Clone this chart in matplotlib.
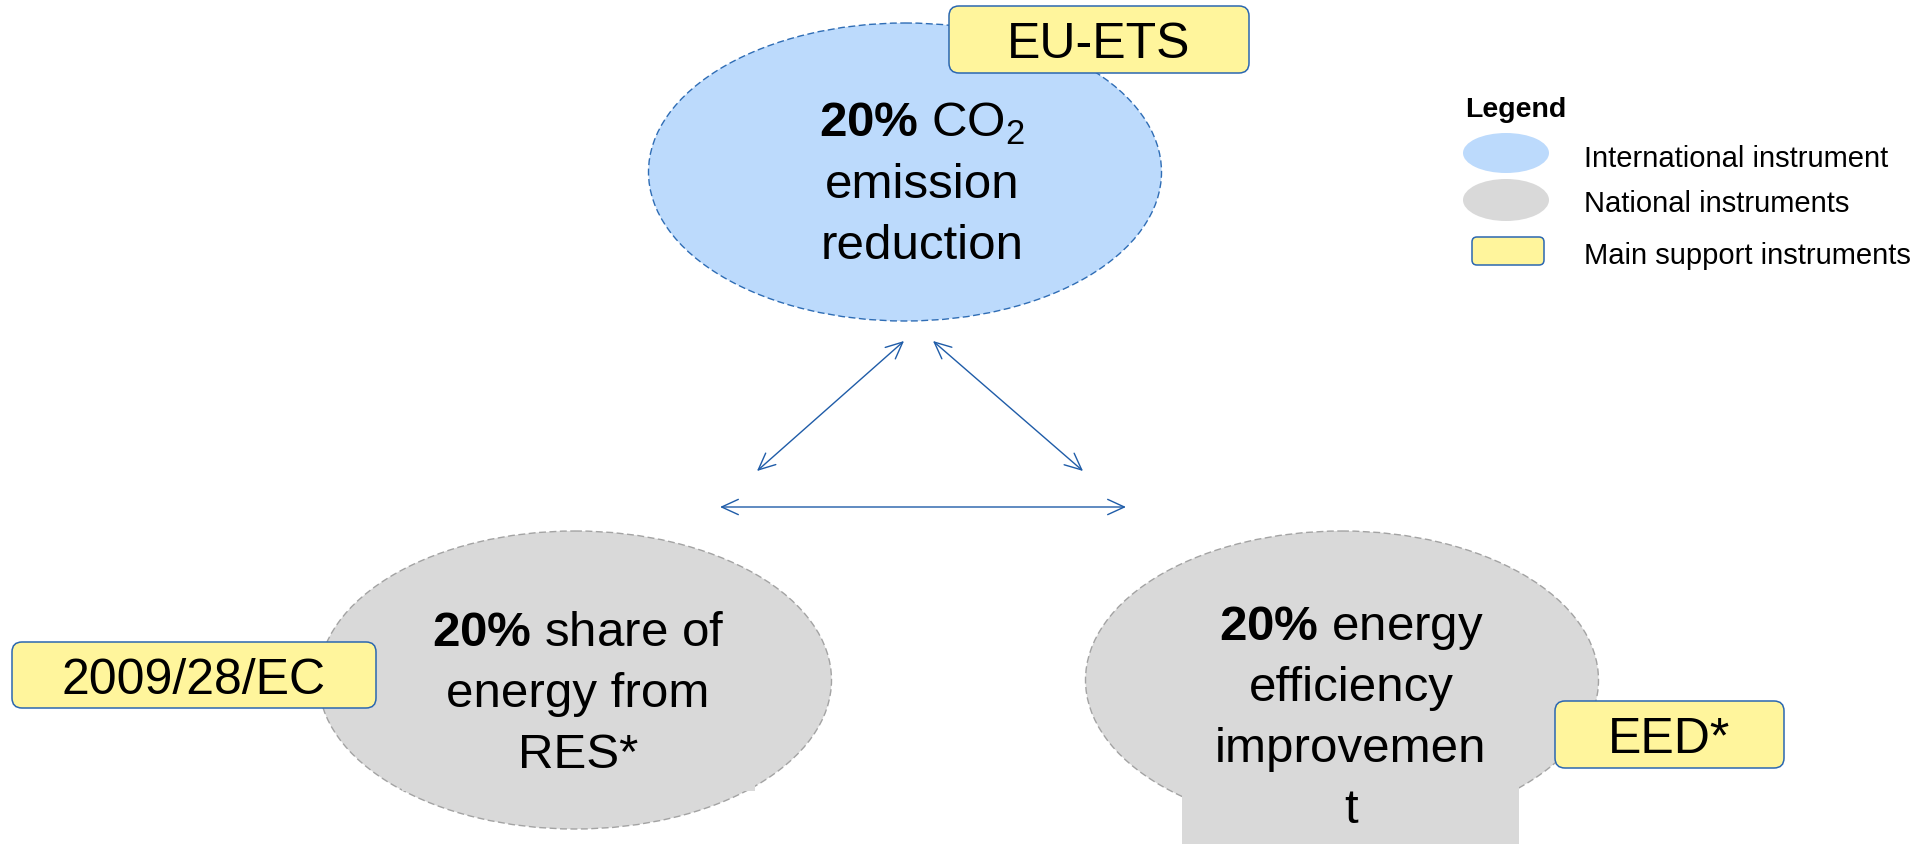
import matplotlib
matplotlib.use('agg')
import matplotlib.pyplot as plt
from matplotlib.patches import Ellipse, Rectangle, FancyBboxPatch

plt.rcParams['font.family'] = ['Liberation Sans', 'DejaVu Sans']
plt.rcParams['mathtext.fontset'] = 'custom'
plt.rcParams['mathtext.rm'] = 'Liberation Sans'
plt.rcParams['mathtext.bf'] = 'Liberation Sans:bold'

##----------DATA---------##
goal_lines = [
    [r'$\mathbf{20\%}$ CO$_2$', 'emission', 'reduction'],
    [r'$\mathbf{20\%}$ share of', 'energy from', 'RES*'],
    [r'$\mathbf{20\%}$ energy', 'efficiency', 'improvemen', 't'],
]
goal_kind = ['international', 'national', 'national']
instruments = ['EU-ETS', '2009/28/EC', 'EED*']
legend_title = 'Legend'
legend_labels = ['International instrument', 'National instruments',
                 'Main support instruments']

##----------STYLE---------##
blueFill = '#BCDAFC'
blueEdge = '#2F6DB5'
grayFill = '#D9D9D9'
grayEdge = '#A3A3A3'
yellow = '#FFF59C'
boxEdge = '#2B67B0'
arrowCol = '#1F5CA8'

fig = plt.figure(figsize=(19.3, 8.45), dpi=100)
ax = fig.add_axes([0, 0, 1, 1])
ax.set_xlim(0, 1930)
ax.set_ylim(845, 0)
ax.axis('off')

#-----------ellipses (center, text center x, first baseline)
ell_pos = [(905, 173, 922, 137), (575, 681, 578, 646), (1342, 681, 1351, 640)]
for (cx, cy, tx, ty), kind, lines in zip(ell_pos, goal_kind, goal_lines):
    fc = blueFill if kind == 'international' else grayFill
    ec = blueEdge if kind == 'international' else grayEdge
    ax.add_patch(Ellipse((cx, cy), 513, 298, facecolor=fc, edgecolor=ec,
                         lw=1.0, linestyle=(0, (5, 2.5)), zorder=1))
    for i, line in enumerate(lines):
        ax.text(tx, ty + i * 61, line, fontsize=35.5, ha='center',
                va='baseline', color='black', zorder=5)

# text boxes overflowing the national ellipses
ax.add_patch(Rectangle((402, 700), 353, 92, facecolor=grayFill,
                       edgecolor='none', zorder=2))
ax.add_patch(Rectangle((1182, 700), 337, 160, facecolor=grayFill,
                       edgecolor='none', zorder=2))

#-----------instrument boxes (x0, y0, x1, y1)
box_pos = [(949, 7, 1249, 74), (12, 643, 376, 709), (1555, 702, 1784, 769)]
for (x0, y0, x1, y1), lab in zip(box_pos, instruments):
    ax.add_patch(FancyBboxPatch((x0, y0), x1 - x0, y1 - y0,
                                boxstyle='round,pad=0,rounding_size=10',
                                facecolor=yellow, edgecolor=boxEdge,
                                lw=1.1, zorder=6))
    ax.text((x0 + x1) / 2, (y0 + y1) / 2 + 18, lab, fontsize=36,
            ha='center', va='baseline', zorder=7)

#-----------arrows
arrows = [((757, 472), (904, 342)), ((933, 342), (1083, 472)),
          ((720, 508), (1126, 508))]
for a, b in arrows:
    ax.annotate('', xy=b, xytext=a,
                arrowprops=dict(arrowstyle='<->,head_length=1.2,head_width=0.55',
                                mutation_scale=10, color=arrowCol, lw=1.0,
                                shrinkA=0, shrinkB=0), zorder=3)

#-----------legend
ax.text(1465, 117, legend_title, fontsize=20.5, fontweight='bold',
        ha='left', va='baseline')
ax.add_patch(Ellipse((1506, 154), 86, 40, facecolor=blueFill,
                     edgecolor='none'))
ax.add_patch(Ellipse((1506, 201), 86, 42, facecolor=grayFill,
                     edgecolor='none'))
ax.add_patch(FancyBboxPatch((1472, 238), 72, 28,
                            boxstyle='round,pad=0,rounding_size=5',
                            facecolor=yellow, edgecolor=boxEdge, lw=1.1))
for yb, lab in zip([167, 212, 264], legend_labels):
    ax.text(1584, yb, lab, fontsize=21, ha='left', va='baseline')

plt.savefig('out.png', dpi=100)
